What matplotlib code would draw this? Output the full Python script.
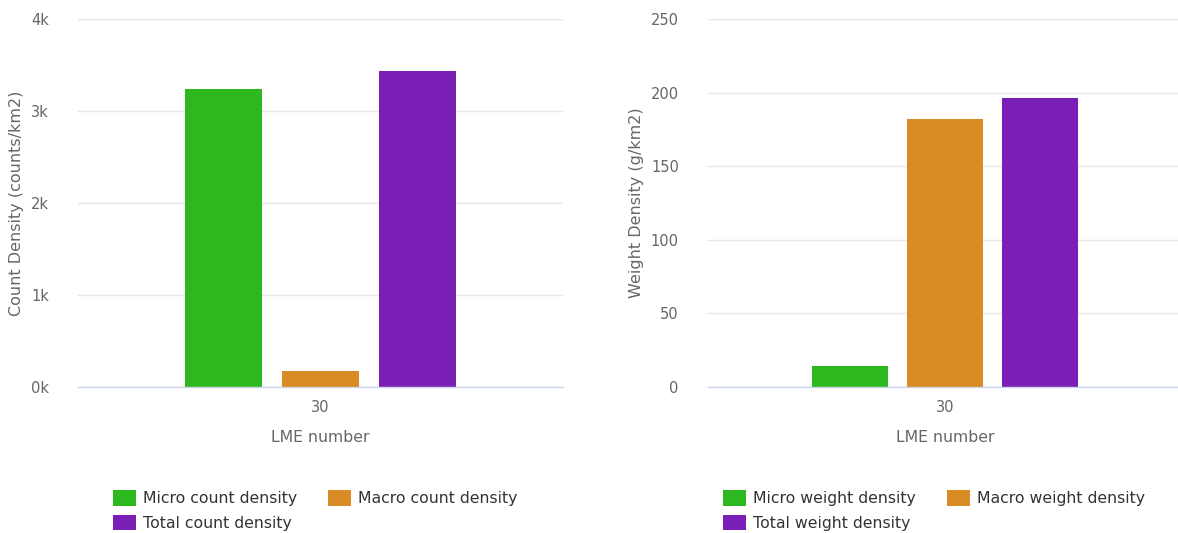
import numpy as np
import matplotlib.pyplot as plt
from matplotlib.ticker import FuncFormatter

# data
category = ['30']
count_series = ['Micro count density', 'Macro count density', 'Total count density']
count_values = [3240, 175, 3435]
weight_series = ['Micro weight density', 'Macro weight density', 'Total weight density']
weight_values = [14.3, 182, 196.5]
colors = ['#2db820', '#d98b24', '#7a1fb6']

plt.rcParams['font.family'] = 'DejaVu Sans'
tick_color = '#666666'
grid_color = '#e6e6e6'

fig = plt.figure(figsize=(11.78, 5.33), dpi=100)
W, H = 1178, 533


def px_axes(x0, x1, y_top, y_bot):
    return fig.add_axes([x0 / W, 1 - y_bot / H, (x1 - x0) / W, (y_bot - y_top) / H])


def style(ax, yticks, ymax, ylabel, fmt):
    ax.set_xlim(-0.5, 0.5)
    ax.set_ylim(0, ymax)
    ax.set_yticks(yticks)
    ax.yaxis.set_major_formatter(FuncFormatter(fmt))
    ax.set_xticks([0])
    ax.set_xticklabels(category)
    for s in ['top', 'right', 'left']:
        ax.spines[s].set_visible(False)
    ax.spines['bottom'].set_color('#ccd6eb')
    ax.spines['bottom'].set_linewidth(1)
    ax.grid(axis='y', color=grid_color, linewidth=1)
    ax.set_axisbelow(True)
    ax.tick_params(axis='y', length=0, pad=21, labelsize=10.5, labelcolor=tick_color)
    ax.tick_params(axis='x', length=0, pad=9, labelsize=10.5, labelcolor=tick_color)
    ax.set_xlabel('LME number', fontsize=11.3, color=tick_color, labelpad=11)
    ax.set_ylabel(ylabel, fontsize=11.5, color=tick_color, labelpad=5)


offsets = np.array([-0.2, 0.0, 0.2])

ax1 = px_axes(78, 563, 19, 387)
bars1 = []
for off, v, c, name in zip(offsets, count_values, colors, count_series):
    bars1.append(ax1.bar(off, v, width=0.157, color=c, label=name))
style(ax1, [0, 1000, 2000, 3000, 4000], 4000, 'Count Density (counts/km2)',
      lambda v, p: f'{int(v / 1000)}k')

ax2 = px_axes(708, 1182, 19, 387)
bars2 = []
for off, v, c, name in zip(offsets, weight_values, colors, weight_series):
    bars2.append(ax2.bar(off, v, width=0.16, color=c, label=name))
style(ax2, [0, 50, 100, 150, 200, 250], 250, 'Weight Density (g/km2)',
      lambda v, p: f'{int(v)}')

# reorder so the legend fills row by row
order = [0, 2, 1]
leg_kw = dict(ncol=2, frameon=False, fontsize=11.3, labelcolor='#333333',
              handlelength=1.45, handleheight=1.15, handletextpad=0.45,
              columnspacing=2.0, labelspacing=0.55, borderaxespad=0, borderpad=0)
fig.legend(handles=[bars1[i] for i in order], loc='upper left',
           bbox_to_anchor=(113 / W, 1 - 490 / H), **leg_kw)
fig.legend(handles=[bars2[i] for i in order], loc='upper left',
           bbox_to_anchor=(723 / W, 1 - 490 / H), **leg_kw)

fig.savefig('out.png', dpi=100)
